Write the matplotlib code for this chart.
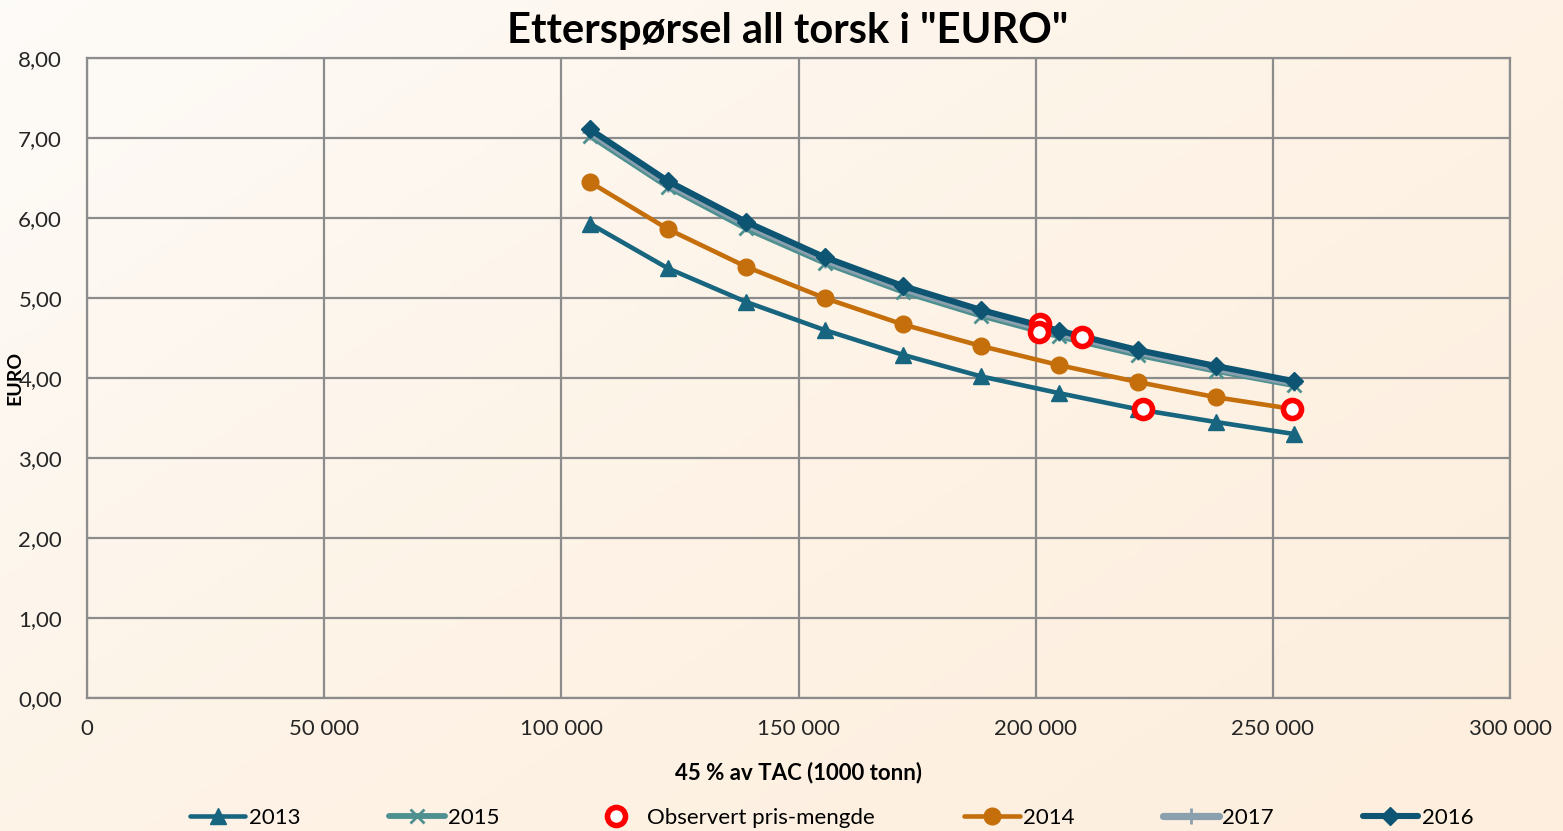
import numpy as np
import matplotlib.pyplot as plt
from matplotlib.colors import LinearSegmentedColormap
from matplotlib.ticker import FuncFormatter

plt.rcParams["font.family"] = ["Lato", "DejaVu Sans"]

# 45 % av TAC (tonn) -- samme x for alle årskurver
tac = [106000, 122500, 139000, 155500, 172000, 188500, 205000, 221500, 238000, 254500]

euro_2013 = [5.93, 5.37, 4.95, 4.60, 4.29, 4.02, 3.81, 3.61, 3.45, 3.30]
euro_2014 = [6.45, 5.86, 5.39, 5.00, 4.67, 4.40, 4.16, 3.95, 3.76, 3.61]
euro_2015 = [7.03, 6.39, 5.87, 5.44, 5.08, 4.78, 4.52, 4.29, 4.09, 3.91]
euro_2017 = [7.08, 6.43, 5.92, 5.48, 5.12, 4.82, 4.56, 4.33, 4.12, 3.94]
euro_2016 = [7.11, 6.46, 5.95, 5.51, 5.15, 4.85, 4.59, 4.35, 4.15, 3.96]

obs_x = [200900, 200700, 209800, 222600, 254100]
obs_y = [4.68, 4.57, 4.51, 3.61, 3.61]

SERIES = {
    "2013": dict(y=euro_2013, color="#17657f", marker="^", ms=11, mew=1, lw=3.3),
    "2014": dict(y=euro_2014, color="#c46f0b", marker="o", ms=12, mew=1, lw=3.3),
    "2015": dict(y=euro_2015, color="#4e8f8f", marker="x", ms=10, mew=2, lw=4.2),
    "2017": dict(y=euro_2017, color="#8aa0ae", marker="+", ms=12, mew=2, lw=5.2),
    "2016": dict(y=euro_2016, color="#0d5572", marker="D", ms=9, mew=1, lw=4.4),
}
LEGEND_ORDER = ["2013", "2015", "Observert pris-mengde", "2014", "2017", "2016"]

fig = plt.figure(figsize=(15.63, 8.31), dpi=100)

# bakgrunn med svak gradient
bg = fig.add_axes([0, 0, 1, 1], zorder=-10)
gx, gy = np.meshgrid(np.linspace(0, 1, 300), np.linspace(0, 1, 160))
grad = np.clip(0.55 * gx + 0.45 * gy, 0, 1)
cmap = LinearSegmentedColormap.from_list("bg", ["#fdfbf8", "#fdf3e6", "#fdeedd"])
bg.imshow(grad, cmap=cmap, aspect="auto", extent=[0, 1, 0, 1], origin="upper")
bg.axis("off")

ax = fig.add_axes([0.0557, 0.1600, 0.9104, 0.7702])
ax.set_facecolor("none")

handles = {}
for name in ["2013", "2014", "2015", "2017", "2016"]:
    s = SERIES[name]
    (h,) = ax.plot(tac, s["y"], color=s["color"], lw=s["lw"], marker=s["marker"],
                   ms=s["ms"], mew=s["mew"], mfc=s["color"], mec=s["color"],
                   label=name, solid_capstyle="round", zorder=3)
    handles[name] = h

(h_obs,) = ax.plot(obs_x, obs_y, ls="none", marker="o", ms=13, mfc="white",
                   mec="#ff0000", mew=4, label="Observert pris-mengde", zorder=5)
handles["Observert pris-mengde"] = h_obs

ax.set_xlim(0, 300000)
ax.set_ylim(0, 8)
ax.set_xticks(np.arange(0, 300001, 50000))
ax.set_yticks(np.arange(0, 8.01, 1))
ax.xaxis.set_major_formatter(FuncFormatter(lambda v, p: f"{int(v):,}".replace(",", " ")))
ax.yaxis.set_major_formatter(FuncFormatter(lambda v, p: f"{v:.2f}".replace(".", ",")))
ax.tick_params(length=0, labelsize=16, colors="#262626")
ax.tick_params(axis="x", pad=15)
ax.tick_params(axis="y", pad=18)
ax.grid(True, color="#8c8c8c", lw=1.6, zorder=0)
ax.set_axisbelow(True)
for sp in ax.spines.values():
    sp.set_color("#8c8c8c")
    sp.set_linewidth(1.6)

ax.set_xlabel("45 % av TAC (1000 tonn)", fontsize=16, fontweight="bold")
ax.xaxis.set_label_coords(0.5, -0.1)
ax.set_ylabel("EURO", fontsize=14, fontweight="bold")
ax.yaxis.set_label_coords(-0.045, 0.5)

fig.text(0.504, 0.963, 'Etterspørsel all torsk i "EURO"', ha="center", va="center",
         fontsize=30, fontweight="bold", color="black")

fig.legend([handles[k] for k in LEGEND_ORDER], LEGEND_ORDER, loc="center",
           bbox_to_anchor=(0.532, 0.016), ncol=6, frameon=False, fontsize=16,
           handlelength=2.5, columnspacing=4.0, handletextpad=0.15,
           borderpad=0, borderaxespad=0)

plt.savefig("out.png", dpi=100)
plt.close()
